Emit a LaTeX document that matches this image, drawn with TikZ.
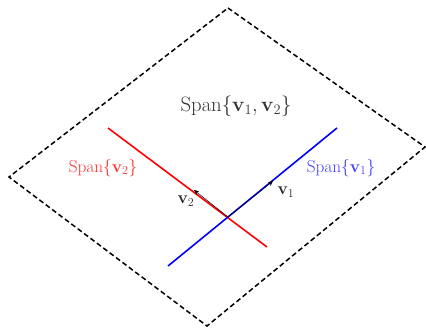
\documentclass[tikz,border=0pt]{standalone}
\usetikzlibrary{arrows.meta}
\begin{document}
\begin{tikzpicture}[x=1pt,y=-1pt,
  plane/.style={draw=black,line width=1.5pt,dash pattern=on 5pt off 3pt},
  spanline/.style={line width=1.6pt},
  vecarrow/.style={draw=black,line width=0.5pt,-{Stealth[length=5pt,width=4.5pt]}},
  biglabel/.style={text=black!80,font=\fontsize{20.5}{24}\selectfont,inner sep=0pt},
  smalllabel/.style={font=\fontsize{17}{20}\selectfont,inner sep=0pt}]
\useasboundingbox (0,0) rectangle (426,330);
\coordinate (T) at (228,8);
\coordinate (R) at (425,147);
\coordinate (B) at (207,326);
\coordinate (L) at (9,177);
\draw[plane] (T) -- (R) -- (B) -- (L) -- cycle;
\coordinate (r1) at (108,128);
\coordinate (r2) at (267,247);
\coordinate (b1) at (168,266);
\coordinate (b2) at (337,128);
\coordinate (O) at (228,217);
\coordinate (v1tip) at (273,181);
\coordinate (v2tip) at (194,190);
\draw[spanline,red] (r1) -- (r2);
\draw[spanline,blue] (b1) -- (b2);
\draw[vecarrow] (O) -- (v1tip);
\draw[vecarrow] (O) -- (v2tip);
\node[biglabel] (span12) at (236,106) {$\mathrm{Span}\{\mathbf{v}_1,\mathbf{v}_2\}$};
\node[smalllabel,text=red!80] (span2) at (103,168) {$\mathrm{Span}\{\mathbf{v}_2\}$};
\node[smalllabel,text=blue!75] (span1) at (341,168) {$\mathrm{Span}\{\mathbf{v}_1\}$};
\node[smalllabel,text=black!85] (v1) at (286,192) {$\mathbf{v}_1$};
\node[smalllabel,text=black!85] (v2) at (186,201) {$\mathbf{v}_2$};
\end{tikzpicture}
\end{document}
